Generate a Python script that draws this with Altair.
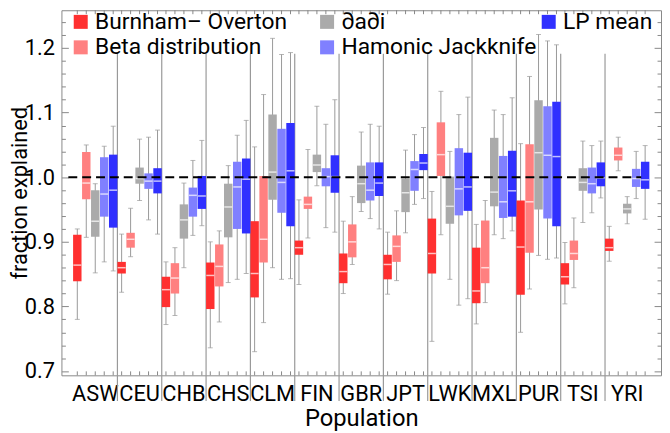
import altair as alt
import pandas as pd

pops = ["ASW", "CEU", "CHB", "CHS", "CLM", "FIN", "GBR", "JPT", "LWK", "MXL", "PUR", "TSI", "YRI"]
methods = ["Burnham– Overton", "Beta distribution", "∂a∂i", "Hamonic Jackknife", "LP mean"]
method_colors = ["#FF3030", "#FF8080", "#AAAAAA", "#8080FF", "#3030FF"]

# (lower whisker, q1, median, q3, upper whisker) per population
burnham = [
    (0.780, 0.839, 0.864, 0.911, 0.920),
    (0.822, 0.851, 0.860, 0.869, 0.912),
    (0.772, 0.799, 0.826, 0.846, 0.869),
    (0.736, 0.796, 0.848, 0.868, 0.900),
    (0.730, 0.814, 0.851, 0.932, 1.047),
    (0.834, 0.880, 0.891, 0.902, 0.965),
    (0.820, 0.836, 0.854, 0.882, 0.932),
    (0.819, 0.842, 0.865, 0.880, 0.915),
    (0.746, 0.851, 0.882, 0.936, 0.978),
    (0.773, 0.805, 0.824, 0.891, 0.927),
    (0.760, 0.818, 0.892, 0.964, 1.052),
    (0.804, 0.834, 0.846, 0.867, 0.899),
    (0.870, 0.886, 0.891, 0.905, 0.924),
]
beta = [
    (0.907, 0.966, 0.991, 1.039, 1.050),
    (0.877, 0.891, 0.904, 0.914, 0.952),
    (0.786, 0.820, 0.844, 0.867, 0.891),
    (0.776, 0.831, 0.862, 0.896, 0.917),
    (0.775, 0.868, 0.904, 1.002, 1.128),
    (0.906, 0.951, 0.958, 0.970, 1.043),
    (0.865, 0.876, 0.900, 0.927, 0.970),
    (0.840, 0.869, 0.893, 0.910, 0.948),
    (0.911, 1.002, 1.035, 1.085, 1.133),
    (0.806, 0.836, 0.860, 0.933, 0.964),
    (0.827, 0.883, 0.962, 1.051, 1.156),
    (0.829, 0.872, 0.882, 0.902, 0.937),
    (1.010, 1.026, 1.034, 1.046, 1.062),
]
dadi = [
    (0.852, 0.908, 0.932, 0.980, 0.990),
    (0.964, 0.990, 0.998, 1.015, 1.059),
    (0.860, 0.905, 0.934, 0.958, 0.991),
    (0.837, 0.907, 0.954, 0.990, 1.018),
    (0.860, 0.965, 1.008, 1.097, 1.215),
    (0.987, 1.008, 1.019, 1.035, 1.110),
    (0.947, 0.960, 0.990, 1.018, 1.070),
    (0.914, 0.946, 0.976, 0.998, 1.042),
    (0.842, 0.928, 0.955, 1.001, 1.040),
    (0.911, 0.955, 0.977, 1.061, 1.104),
    (0.879, 0.950, 1.038, 1.119, 1.221),
    (0.930, 0.979, 0.992, 1.014, 1.056),
    (0.928, 0.944, 0.951, 0.959, 0.970),
]
jackknife = [
    (0.869, 0.939, 0.974, 1.031, 1.048),
    (0.934, 0.982, 0.994, 1.006, 1.062),
    (0.910, 0.939, 0.972, 0.984, 1.026),
    (0.842, 0.920, 0.985, 1.024, 1.065),
    (0.842, 0.945, 0.992, 1.075, 1.190),
    (0.922, 0.986, 1.001, 1.014, 1.082),
    (0.936, 0.964, 0.980, 1.023, 1.082),
    (0.958, 0.979, 1.012, 1.025, 1.066),
    (0.802, 0.941, 0.982, 1.045, 1.097),
    (0.905, 0.937, 0.962, 1.033, 1.097),
    (0.873, 0.936, 1.034, 1.110, 1.211),
    (0.945, 0.975, 0.990, 1.015, 1.049),
    (0.967, 0.985, 0.998, 1.013, 1.040),
]
lp_mean = [
    (0.855, 0.922, 0.980, 1.035, 1.079),
    (0.912, 0.975, 0.994, 1.014, 1.073),
    (0.925, 0.951, 0.971, 1.002, 1.057),
    (0.851, 0.913, 0.997, 1.029, 1.088),
    (0.843, 0.924, 1.010, 1.084, 1.193),
    (0.915, 0.976, 1.001, 1.034, 1.120),
    (0.920, 0.971, 0.991, 1.023, 1.079),
    (0.967, 1.011, 1.022, 1.036, 1.077),
    (0.812, 0.948, 0.985, 1.038, 1.124),
    (0.917, 0.939, 0.979, 1.041, 1.123),
    (0.875, 0.924, 1.032, 1.117, 1.205),
    (0.968, 0.986, 0.999, 1.023, 1.056),
    (0.935, 0.982, 0.996, 1.024, 1.049),
]

major_ticks = [0.7, 0.8, 0.9, 1.0, 1.1, 1.2]
minor_ticks = [0.72, 0.74, 0.76, 0.78, 0.82, 0.84, 0.86, 0.88, 0.92, 0.94, 0.96, 0.98,
               1.02, 1.04, 1.06, 1.08, 1.12, 1.14, 1.16, 1.18, 1.22, 1.24]

rows = []
for m, stats in zip(methods, [burnham, beta, dadi, jackknife, lp_mean]):
    for p, (lo, q1, med, q3, hi) in zip(pops, stats):
        rows.append(dict(pop=p, method=m, lo=lo, q1=q1, med=med, q3=q3, hi=hi))
df = pd.DataFrame(rows)

W, H = 606, 369
FONT = "Roboto"
GRAY = "#999999"
FRAME = "#888888"
NBSP = "\u00a0"
ZWSP = "\u200b"
ydom = [0.6934, 1.2585]
yscale = alt.Scale(domain=ydom, nice=False, zero=False)
xscale = alt.Scale(domain=pops, paddingInner=0, paddingOuter=0.263)
xoscale = alt.Scale(domain=methods, paddingInner=0.06, paddingOuter=0)

xaxis = alt.Axis(ticks=False, domain=False, labelFontSize=22, labelFont=FONT, labelColor="black",
                 labelPadding=8, labelAngle=0, titleFontSize=24, titleFont=FONT,
                 titleFontWeight="normal", titleColor="black", titlePadding=3)
yaxis = alt.Axis(values=major_ticks, format=".1f", tickSize=7, offset=-7, tickColor=FRAME,
                 domain=False, grid=False, labelFontSize=22, labelFont=FONT, labelColor="black",
                 labelPadding=7, titleFontSize=22, titleFont=FONT, titleFontWeight="normal",
                 titleColor="black", titleX=-49, titleY=H / 2, titleBaseline="middle",
                 titleAlign="center")


def X(**kw):
    return alt.X("pop:N", scale=xscale, axis=xaxis, title="Population", **kw)


XO = alt.XOffset("method:N", scale=xoscale)


def Y(field):
    return alt.Y(field, type="quantitative", scale=yscale, axis=yaxis, title="fraction explained")


# widen the first legend column with trailing (non-trimmed) spaces so the columns sit as in the figure
pad_expr = ("(datum.value == '" + methods[0] + "' || datum.value == '" + methods[1]
            + "') ? datum.label + '" + NBSP * 5 + ZWSP + "' : datum.label")

base = alt.Chart(df)

whiskers = base.mark_rule(color=GRAY, strokeWidth=1).encode(x=X(), xOffset=XO, y=Y("lo"), y2="hi")
cap_lo = base.mark_tick(color=GRAY, size=5, thickness=1).encode(x=X(), xOffset=XO, y=Y("lo"))
cap_hi = base.mark_tick(color=GRAY, size=5, thickness=1).encode(x=X(), xOffset=XO, y=Y("hi"))
boxes = base.mark_bar().encode(
    x=X(), xOffset=XO, y=Y("q1"), y2="q3",
    color=alt.Color("method:N",
                    scale=alt.Scale(domain=methods, range=method_colors),
                    legend=alt.Legend(title=None, orient="none", legendX=8, legendY=0, columns=3,
                                      symbolType="square", symbolSize=200, symbolStrokeWidth=0,
                                      symbolOpacity=1, labelFontSize=23, labelFont=FONT,
                                      labelColor="black", labelOffset=3, columnPadding=0,
                                      labelLimit=0, padding=0, labelExpr=pad_expr)),
)
medians = base.mark_tick(color="white", size=8, thickness=1.5).encode(x=X(), xOffset=XO, y=Y("med"))
bottom_ticks = base.mark_rule(color=FRAME, strokeWidth=1).encode(
    x=X(), xOffset=XO, y=alt.value(H), y2=alt.value(H - 4))
top_ticks = base.mark_rule(color=FRAME, strokeWidth=1).encode(
    x=X(), xOffset=XO, y=alt.value(0), y2=alt.value(4))

separators = alt.Chart(pd.DataFrame({"pop": pops[1:]})).mark_rule(color=GRAY, strokeWidth=1.2).encode(
    x=X(bandPosition=0), y=alt.value(44), y2=alt.value(395))

dashed = alt.Chart(pd.DataFrame({"v": [1.0]})).mark_rule(
    color="black", strokeWidth=2, strokeDash=[9, 5]).encode(
    y=Y("v"), x=alt.value(7), x2=alt.value(586))

inner = alt.layer(separators, whiskers, cap_lo, cap_hi, boxes, medians, bottom_ticks, top_ticks, dashed)


def axis_layer(orient, vals, size):
    return alt.Chart(pd.DataFrame({"v": [1.0]})).mark_rule(opacity=0).encode(
        y=alt.Y("v:Q", scale=yscale,
                axis=alt.Axis(orient=orient, values=vals, tickSize=size, offset=-size, labels=False,
                              domain=False, grid=False, tickColor=FRAME),
                title=None))


chart = alt.layer(
    inner,
    axis_layer("left", minor_ticks, 4),
    axis_layer("right", major_ticks, 7),
    axis_layer("right", minor_ticks, 4),
).resolve_scale(y="independent").properties(
    width=W, height=H,
    padding={"left": 54, "top": 0, "right": 1, "bottom": 54},
    autosize=alt.AutoSizeParams(type="none"),
).configure_view(stroke=FRAME, strokeWidth=1)

chart.save("out.html", embed_options={"renderer": "svg", "actions": False})
